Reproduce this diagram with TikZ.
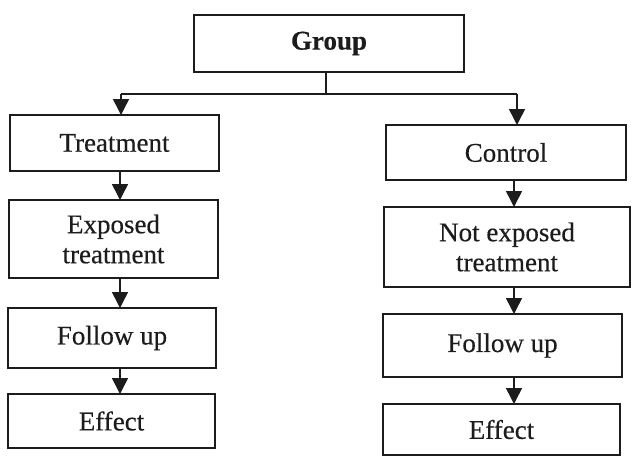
\documentclass[tikz,border=0pt]{standalone}
\usepackage{fontspec}
\setmainfont[FakeBold=0.35, BoldFont={Liberation Serif Bold}, BoldFeatures={FakeBold=0.35}]{Liberation Serif}
\usetikzlibrary{arrows.meta}
\definecolor{ink}{HTML}{1C1C1C}
\begin{document}
\begin{tikzpicture}[x=1pt,y=-1pt,
  box/.style={draw=ink, line width=1.8pt, inner sep=0pt, outer sep=0pt,
    text=ink, align=center, font=\fontsize{27}{30}\selectfont},
  arr/.style={draw=ink, line width=1.5pt, -{Triangle[width=16pt,length=16pt]}},
  link/.style={draw=ink, line width=1.5pt}]
\useasboundingbox[fill=white] (0,0) rectangle (632,458);
% Group
\node[box, minimum width=270pt, minimum height=57pt, font=\fontsize{27}{30}\selectfont\bfseries] (g) at (329,43.5) {Group};
% left column
\node[box, minimum width=209pt, minimum height=56pt] (t1) at (114.5,143) {Treatment};
\node[box, minimum width=209pt, minimum height=78pt] (t2) at (113.5,239) {Exposed\\treatment};
\node[box, minimum width=208pt, minimum height=60pt] (t3) at (112,338) {Follow up};
\node[box, minimum width=207pt, minimum height=54pt] (t4) at (111.5,421) {Effect};
% right column
\node[box, minimum width=240pt, minimum height=55pt] (c1) at (506,152.5) {Control};
\node[box, minimum width=246pt, minimum height=80pt] (c2) at (507,247) {Not exposed\\treatment};
\node[box, minimum width=239pt, minimum height=63pt] (c3) at (502.5,345.5) {Follow up};
\node[box, minimum width=237pt, minimum height=51pt] (c4) at (501.5,429.5) {Effect};
% junction
\coordinate (j) at (326,94);
\coordinate (jl) at (121,94);
\coordinate (jr) at (517,94);
\coordinate (cl) at (120,0);
\coordinate (cr) at (514,0);
\draw[link] (g.south -| j) -- (j);
\draw[link] (jl) -- (jr);
\draw[arr] (jl) -- (t1.north -| jl);
\draw[arr] (jr) -- (c1.north -| jr);
% left arrows
\draw[arr] (t1.south -| cl) -- (t2.north -| cl);
\draw[arr] (t2.south -| cl) -- (t3.north -| cl);
\draw[arr] (t3.south -| cl) -- (t4.north -| cl);
% right arrows
\draw[arr] (c1.south -| cr) -- (c2.north -| cr);
\draw[arr] (c2.south -| cr) -- (c3.north -| cr);
\draw[arr] (c3.south -| cr) -- (c4.north -| cr);
\end{tikzpicture}
\end{document}
